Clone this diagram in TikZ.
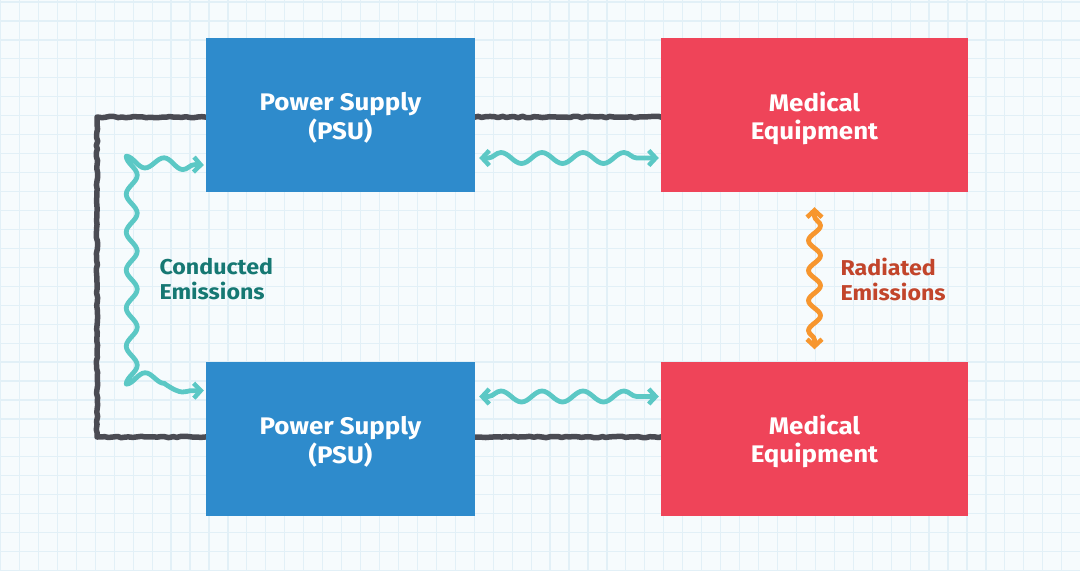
\documentclass[tikz,border=0pt]{standalone}
\usepackage{fontspec}
\setmainfont[FakeStretch=1.08]{Fira Sans}
\usetikzlibrary{arrows.meta,decorations.pathmorphing}
\definecolor{bgc}{HTML}{F6FBFD}
\definecolor{gridc}{HTML}{E2F0F7}
\definecolor{psublue}{HTML}{2E8BCC}
\definecolor{medred}{HTML}{EF4459}
\definecolor{wirec}{HTML}{4A4B53}
\definecolor{cyanw}{HTML}{5BC8C5}
\definecolor{orangew}{HTML}{F7962E}
\definecolor{teallab}{HTML}{167873}
\definecolor{radlab}{HTML}{C2452B}
\pgfmathsetseed{7}
\newcommand{\boxtext}[2]{\raisebox{0pt}[\dimexpr\height+9pt\relax][\depth]{\begin{tabular}{@{}c@{}}#1\\#2\end{tabular}}}
\tikzset{
  box/.style={rectangle, inner sep=0pt, text=white, align=center,
    font=\fontsize{24}{28}\selectfont\bfseries},
  psubox/.style={box, fill=psublue, minimum width=269pt, minimum height=154pt},
  medbox/.style={box, fill=medred, minimum width=307pt, minimum height=154pt},
  wire/.style={draw=wirec, line width=5.5pt, line join=round,
    decorate, decoration={random steps, segment length=4pt, amplitude=0.7pt}},
  barbs/.style={{Straight Barb[length=7pt,width=15pt,line width=4.5pt]}-{Straight Barb[length=7pt,width=15pt,line width=4.5pt]}},
  wavy/.style={draw=#1, line width=4.8pt, line cap=round, line join=round, barbs,
    decorate, decoration={snake, segment length=41pt, amplitude=5.5pt, pre length=9pt, post length=9pt}},
  vwavy/.style={wavy=#1, decoration={snake, segment length=30pt, amplitude=6pt, pre length=9pt, post length=9pt}},
  lab/.style={align=left, anchor=west, font=\fontsize{21.5}{25}\selectfont\bfseries}
}
\begin{document}
\begin{tikzpicture}[x=1pt,y=-1pt]
\fill[bgc] (0,0) rectangle (1080,571);
\useasboundingbox (0,0) rectangle (1080,571);
\foreach \i in {0,...,57} {
  \draw[gridc, line width=1.2pt] ({0.5+18.95*\i},0) -- ({0.5+18.95*\i},571);
}
\foreach \j in {0,...,30} {
  \draw[gridc, line width=1.2pt] (0,{2+18.95*\j}) -- (1080,{2+18.95*\j});
}

\coordinate (wtl) at (97,117);
\coordinate (wbl) at (97,437);
\coordinate (p1w) at (210,117);
\coordinate (p2w) at (210,437);
\coordinate (p1e) at (470,117);
\coordinate (m1w) at (665,117);
\coordinate (p2e) at (470,437);
\coordinate (m2w) at (665,437);
\draw[wire] (p1w) -- (wtl) -- (wbl) -- (p2w);
\draw[wire] (p1e) -- (m1w);
\draw[wire] (p2e) -- (m2w);

\node[psubox] (psu1) at (340.5,115) {\boxtext{Power Supply}{(PSU)}};
\node[medbox] (med1) at (814.5,115) {\boxtext{Medical}{Equipment}};
\node[psubox] (psu2) at (340.5,438.5) {\boxtext{Power Supply}{(PSU)}};
\node[medbox] (med2) at (814.5,438.5) {\boxtext{Medical}{Equipment}};

\draw[wavy=cyanw] ([xshift=4pt,yshift=-43pt]psu1.east) -- ([xshift=-2pt,yshift=-43pt]med1.west);
\draw[wavy=cyanw] ([xshift=4pt,yshift=42pt]psu2.east) -- ([xshift=-2pt,yshift=42pt]med2.west);

\coordinate (ctl) at (134,162);
\coordinate (cbl) at (134,392);
\draw[draw=cyanw, line width=4.8pt, line cap=round, line join=round, barbs,
  decorate, decoration={snake, segment length=38pt, amplitude=5.5pt, pre length=9pt, post length=9pt}]
  ([xshift=-2pt,yshift=-50pt]psu1.west) -- (ctl) -- (cbl) -- ([xshift=-2pt,yshift=48pt]psu2.west);

\draw[vwavy=orangew] ([yshift=-15pt]med1.south) -- ([yshift=12pt]med2.north);

\node[lab, text=teallab] (cond) at (156,279) {Conducted\\Emissions};
\node[lab, text=radlab] (rad) at (837,279) {Radiated\\Emissions};
\end{tikzpicture}
\end{document}
